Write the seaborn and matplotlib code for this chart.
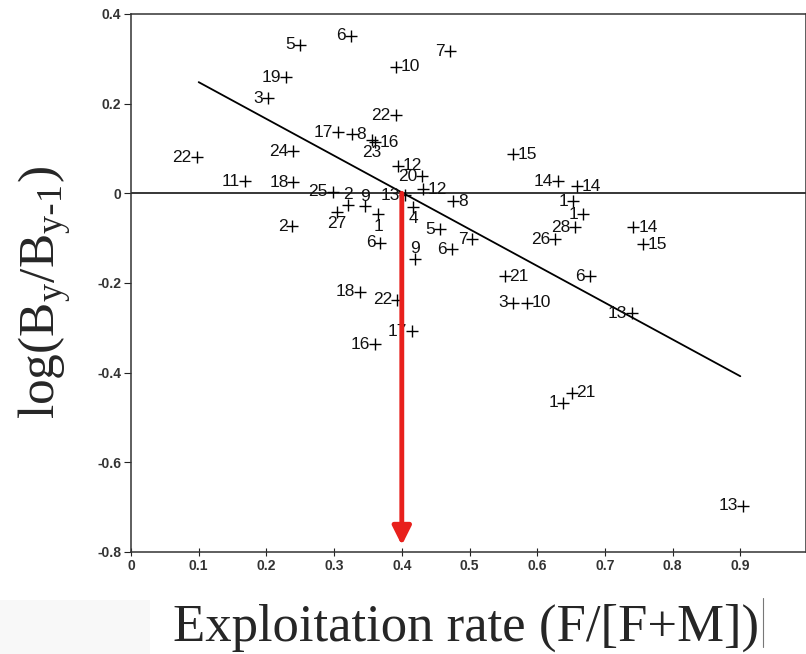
import numpy as np
import pandas as pd
import matplotlib
matplotlib.use("Agg")
import matplotlib.pyplot as plt
import seaborn as sns

# values
exploitation = [0.250, 0.325, 0.391, 0.471, 0.229, 0.202, 0.391, 0.306, 0.326, 0.360,
                0.356, 0.394, 0.430, 0.431, 0.405, 0.298, 0.321, 0.346, 0.304, 0.365,
                0.476, 0.417, 0.456, 0.368, 0.419, 0.474, 0.504, 0.097, 0.240, 0.168,
                0.240, 0.238, 0.564, 0.631, 0.659, 0.653, 0.668, 0.656, 0.626, 0.742,
                0.756, 0.552, 0.678, 0.564, 0.585, 0.740, 0.338, 0.393, 0.415, 0.360,
                0.638, 0.651, 0.904]
log_ratio = [0.331, 0.351, 0.282, 0.317, 0.259, 0.212, 0.174, 0.136, 0.132, 0.114,
             0.118, 0.062, 0.038, 0.009, -0.004, 0.004, -0.025, -0.029, -0.042, -0.047,
             -0.018, -0.031, -0.080, -0.110, -0.147, -0.125, -0.103, 0.080, 0.094, 0.027,
             0.025, -0.074, 0.087, 0.027, 0.016, -0.018, -0.047, -0.076, -0.103, -0.076,
             -0.114, -0.185, -0.185, -0.244, -0.244, -0.268, -0.219, -0.237, -0.308, -0.337,
             -0.467, -0.445, -0.697]
year_labels = ['5', '6', '10', '7', '19', '3', '22', '17', '8', '16',
               '23', '12', '20', '12', '13', '25', '2', '9', '27', '1',
               '8', '4', '5', '6', '9', '6', '7', '22', '24', '11',
               '18', '2', '15', '14', '14', '1', '1', '28', '26', '14',
               '15', '21', '6', '3', '10', '13', '18', '22', '17', '16',
               '1', '21', '13']
label_side = ['l', 'l', 'r', 'l', 'l', 'l', 'l', 'l', 'r', 'r',
              'b', 'r', 'l', 'r', 'l', 'l', 'a', 'a', 'b', 'b',
              'r', 'b', 'l', 'l', 'a', 'l', 'l', 'l', 'l', 'l',
              'l', 'l', 'r', 'l', 'r', 'l', 'l', 'l', 'l', 'r',
              'r', 'r', 'l', 'l', 'r', 'l', 'l', 'l', 'l', 'l',
              'l', 'r', 'l']

# regression line printed in the figure
fit_intercept = 0.330
fit_slope = -0.820
fit_range = [0.1, 0.9]
target_rate = 0.4

x_ticks = [0, 0.1, 0.2, 0.3, 0.4, 0.5, 0.6, 0.7, 0.8, 0.9]
x_ticklabels = ['0', '0.1', '0.2', '0.3', '0.4', '0.5', '0.6', '0.7', '0.8', '0.9']
y_ticks = [0.4, 0.2, 0, -0.2, -0.4, -0.6, -0.8]
y_ticklabels = ['0.4', '0.2', '0', '-0.2', '-0.4', '-0.6', '-0.8']

df = pd.DataFrame({'rate': exploitation, 'logb': log_ratio,
                   'year': year_labels, 'side': label_side})

sns.set_style("ticks")
plt.rcParams['font.family'] = ['Liberation Sans', 'DejaVu Sans']

fig = plt.figure(figsize=(8.06, 6.54), dpi=100)

# faint scan artefacts at the bottom (grey patch, text cursor)
fig.patches.append(plt.Rectangle((0, 0), 0.186, 0.083, transform=fig.transFigure,
                                 facecolor='#f8f8f8', edgecolor='none', zorder=0))
fig.add_artist(plt.Line2D([0.947, 0.947], [0.01, 0.085], transform=fig.transFigure,
                          color='#777777', lw=0.8))

ax = fig.add_axes([0.1625, 0.156, 0.8375, 0.8226])

# zero line and fitted line
ax.axhline(0, color='black', lw=1.1, zorder=1)
fx = np.array(fit_range)
ax.plot(fx, fit_intercept + fit_slope * fx, color='black', lw=1.3, zorder=2)

sns.scatterplot(data=df, x='rate', y='logb', marker='+', color='black',
                s=70, linewidth=1.0, ax=ax, zorder=3, legend=False)

offsets = {'l': ((-3.5, 0), 'right', 'center'),
           'r': ((3.5, 0), 'left', 'center'),
           'a': ((0, 2), 'center', 'bottom'),
           'b': ((0, -3), 'center', 'top')}
for _, row in df.iterrows():
    off, ha, va = offsets[row['side']]
    ax.annotate(row['year'], (row['rate'], row['logb']), xytext=off,
                textcoords='offset points', ha=ha, va=va, fontsize=12.5,
                color='#111111', zorder=4)

# red arrow at the target exploitation rate
ax.annotate('', xy=(target_rate, -0.785), xytext=(target_rate, 0.0),
            arrowprops=dict(arrowstyle='-|>', color='#e8201c', lw=3.5,
                            mutation_scale=28, shrinkA=0, shrinkB=0),
            zorder=5)

ax.set_xlim(0, 0.997)
ax.set_ylim(-0.8, 0.4)
ax.set_xticks(x_ticks)
ax.set_xticklabels(x_ticklabels)
ax.set_yticks(y_ticks)
ax.set_yticklabels(y_ticklabels)
ax.tick_params(axis='x', direction='inout', length=6, labelsize=10, pad=2,
               colors='#222222')
ax.tick_params(axis='y', direction='out', length=5, labelsize=10, pad=2,
               colors='#222222')
for lab in ax.get_xticklabels() + ax.get_yticklabels():
    lab.set_fontweight('bold')
    lab.set_color('#333333')
for sp in ax.spines.values():
    sp.set_color('#333333')
    sp.set_linewidth(1.1)
ax.set_xlabel('')
ax.set_ylabel('')

fig.text(0.578, 0.04, 'Exploitation rate (F/[F+M])', family='Liberation Serif',
         fontsize=38, ha='center', va='center')
fig.text(0.056, 0.553, r'log(B$_\mathregular{y}$/B$_\mathregular{y\text{-}1}$)',
         family='Liberation Serif', fontsize=37, ha='center', va='center',
         rotation=90)

fig.savefig('out.png', dpi=100)
